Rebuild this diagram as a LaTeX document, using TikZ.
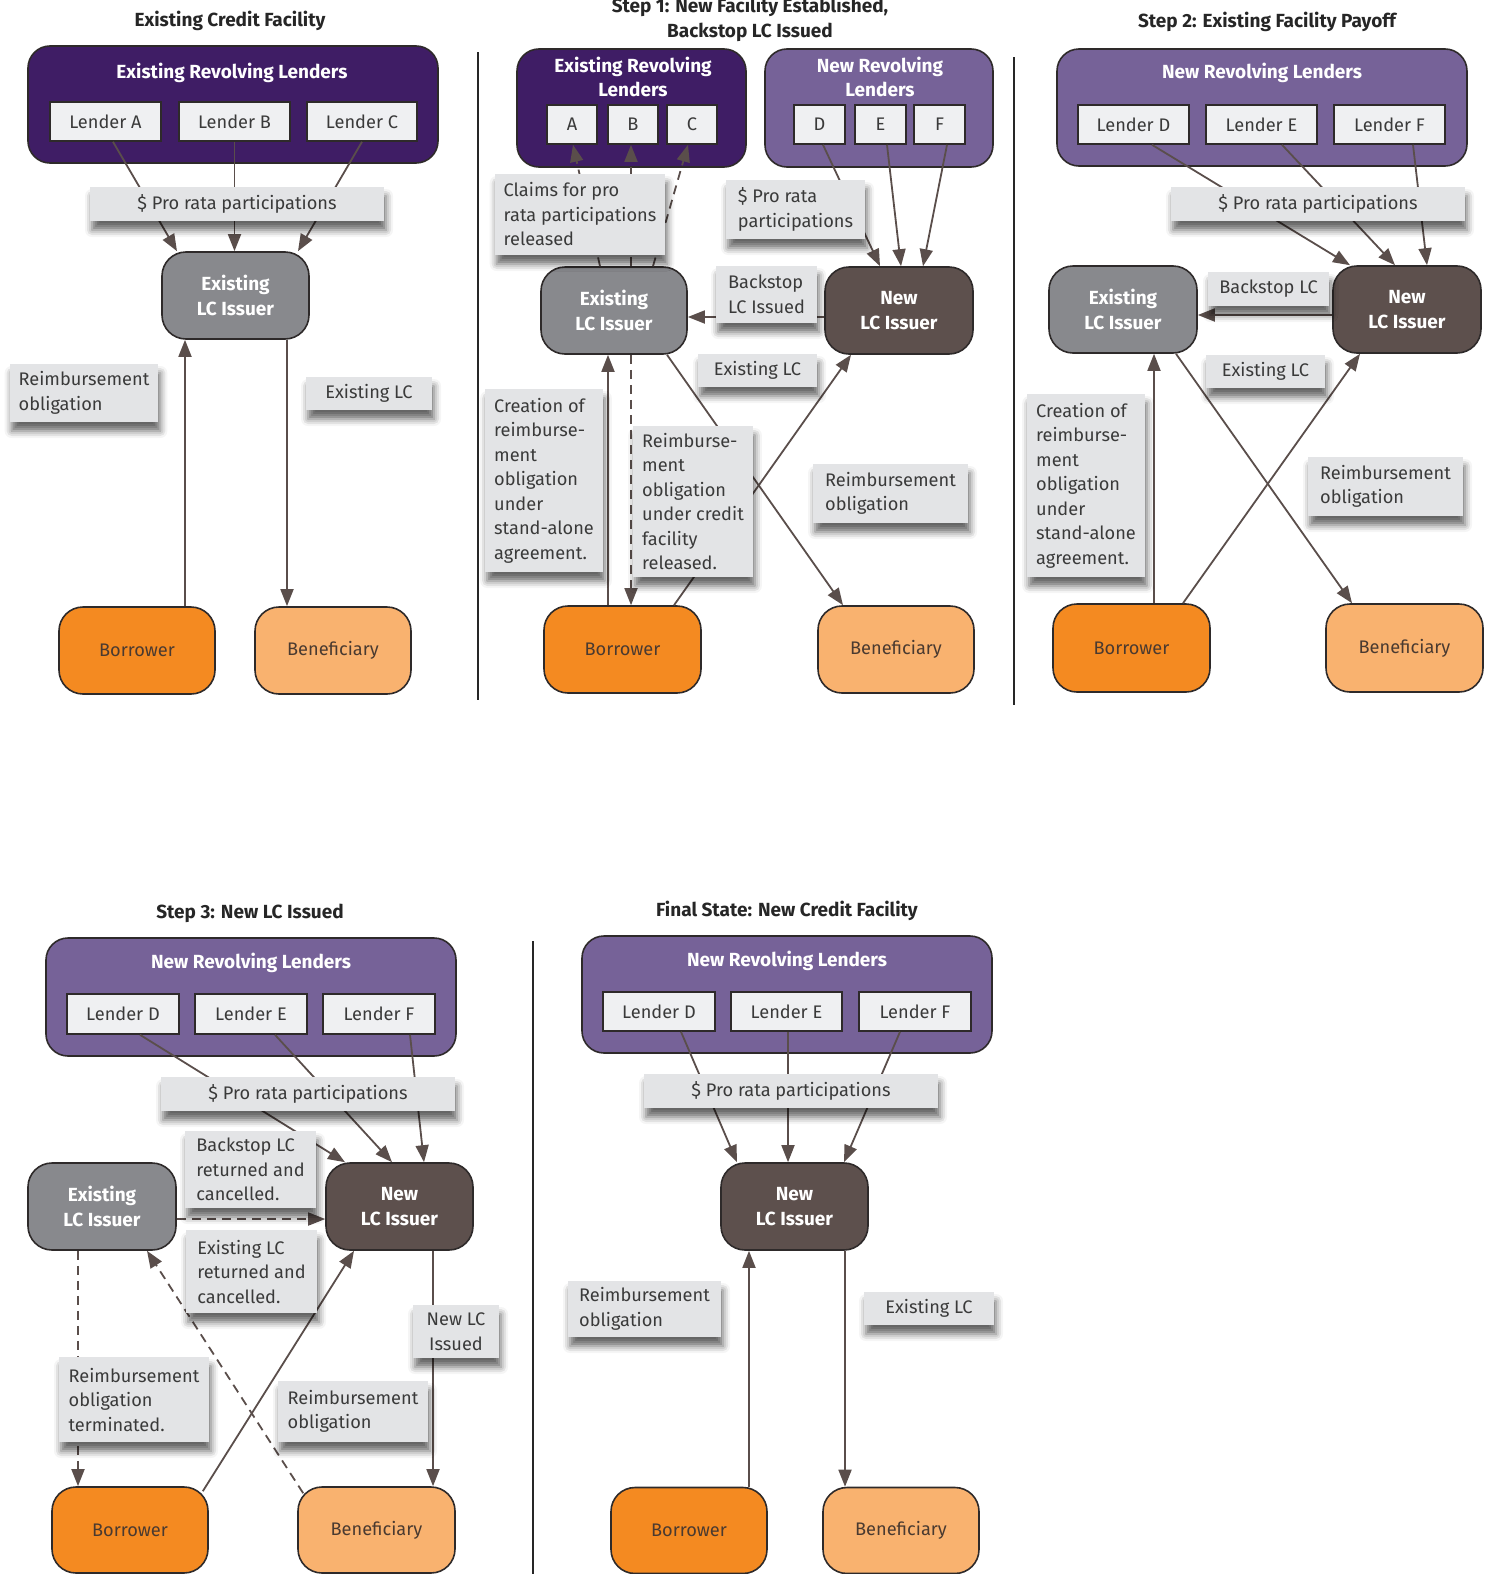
\documentclass[tikz,border=0pt]{standalone}
\usepackage{fontspec}
\setmainfont{Fira Sans}
\usepackage{tikz}
\usetikzlibrary{arrows.meta,shadows.blur}

\definecolor{purpold}{HTML}{3F1D65}
\definecolor{purpnew}{HTML}{766298}
\definecolor{lendfill}{HTML}{EFF0F2}
\definecolor{notefill}{HTML}{E3E4E6}
\definecolor{issold}{HTML}{88898D}
\definecolor{issnew}{HTML}{5D504D}
\definecolor{borrc}{HTML}{F48A21}
\definecolor{benc}{HTML}{F9B26F}
\definecolor{linec}{HTML}{5A4E4B}
\definecolor{edgec}{HTML}{2E2A2A}
\definecolor{txtc}{HTML}{3A3A3A}
\definecolor{txtb}{HTML}{4A3A30}

\newcommand\lblsize{\fontsize{18.2}{24.5}\selectfont}
\newcommand\bldsize{\fontsize{19}{24.5}\selectfont\bfseries}

\begin{document}
\begin{tikzpicture}[x=1pt, y=-1pt,
    grp/.style={draw=edgec, line width=1.6pt, rounded corners=22pt, inner sep=0pt},
    grpold/.style={grp, fill=purpold},
    grpnew/.style={grp, fill=purpnew},
    gtitle/.style={text=white, font=\bldsize, align=center},
    lender/.style={draw=edgec, fill=lendfill, line width=1.6pt, text=txtc, font=\lblsize, inner sep=0pt},
    party/.style={draw=edgec, line width=1.6pt, rounded corners=24pt, inner sep=0pt, font=\lblsize},
    oldiss/.style={party, fill=issold, text=white, font=\bldsize, align=center},
    newiss/.style={party, fill=issnew, text=white, font=\bldsize, align=center},
    borrower/.style={party, fill=borrc, text=txtb},
    benef/.style={party, fill=benc, text=txtb},
    note/.style={fill=notefill, text=txtc, font=\lblsize, align=left, inner xsep=9pt, inner ysep=0pt,
      blur shadow={shadow xshift=2pt, shadow yshift=-9pt, shadow blur radius=7pt, shadow opacity=60}},
    ttl/.style={font=\bldsize, text=black!85, align=center},
    wh/.style 2 args={minimum width=#1pt, minimum height=#2pt},
    arr/.style={draw=linec, line width=1.8pt, -{Triangle[length=17pt,width=13pt]}},
    darr/.style={arr, dash pattern=on 9pt off 6pt},
    sepline/.style={draw=black!85, line width=2.2pt}]
\useasboundingbox (0,0) rectangle (1493,1574);

% Existing credit facility
\node[ttl] (t1) at (230,21) {Existing Credit Facility};
\node[grpold, wh={410}{117}] (g1) at (233,104.5) {};
\node[gtitle] (g1t) at (232,73) {Existing Revolving Lenders};
\node[lender, wh={111}{39}] (lA) at (105.5,121.5) {Lender A};
\node[lender, wh={111}{39}] (lB) at (234.5,121.5) {Lender B};
\node[lender, wh={110}{39}] (lC) at (362,121.5) {Lender C};
\node[oldiss, wh={147}{87}] (iss1) at (235.5,295.5) {Existing\\LC Issuer};
\node[borrower, wh={156}{87}] (bor1) at (137,650.5) {Borrower};
\node[benef, wh={156}{87}] (ben1) at (333,650.5) {Beneficiary};
\draw[arr] ([xshift=7.5pt]lA.south) -- ([xshift=-58.5pt]iss1.north);
\draw[arr] (lB.south) -- (lB.south |- iss1.north);
\draw[arr] (lC.south) -- ([xshift=62.5pt]iss1.north);
\draw[arr] ([xshift=48pt]bor1.north) -- ([xshift=48pt]bor1.north |- iss1.south);
\draw[arr] ([xshift=51.5pt]iss1.south) -- ([xshift=51.5pt]iss1.south |- ben1.north);
\node[note, wh={294}{34}] (pr1) at (237,204) {\$ Pro rata participations};
\node[note, wh={148}{58}] (ro1) at (84,393) {Reimbursement\\obligation};
\node[note, wh={126}{33}] (el1) at (369,393.5) {Existing LC};
\draw[sepline] (478,52) -- (478,700);

% Step 1
\node[ttl] (t2) at (750,19.5) {Step 1: New Facility Established,\\Backstop LC Issued};
\node[grpold, wh={229}{118}] (g2a) at (631.5,108) {};
\node[gtitle] (g2at) at (633,77) {Existing Revolving\\Lenders};
\node[lender, wh={50}{39}] (a2) at (572,124.5) {A};
\node[lender, wh={50}{39}] (b2) at (633,124.5) {B};
\node[lender, wh={50}{39}] (c2) at (692,124.5) {C};
\node[grpnew, wh={228}{118}] (g2b) at (879,108) {};
\node[gtitle] (g2bt) at (880,77) {New Revolving\\Lenders};
\node[lender, wh={51}{39}] (d2) at (819.5,124.5) {D};
\node[lender, wh={51}{39}] (e2) at (880.5,124.5) {E};
\node[lender, wh={51}{39}] (f2) at (939.5,124.5) {F};
\node[oldiss, wh={146}{87}] (eiss2) at (614,310.5) {Existing\\LC Issuer};
\node[newiss, wh={148}{87}] (niss2) at (899,310.5) {New\\LC Issuer};
\node[borrower, wh={157}{87}] (bor2) at (622.5,649.5) {Borrower};
\node[benef, wh={156}{87}] (ben2) at (896,649.5) {Beneficiary};
\draw[darr] ([xshift=-14pt]eiss2.north) -- ([xshift=1pt]a2.south);
\draw[darr] ([xshift=17pt]eiss2.north) -- ([xshift=17pt]eiss2.north |- b2.south);
\draw[darr] ([xshift=39pt]eiss2.north) -- ([xshift=-4pt]c2.south);
\draw[arr] ([xshift=3.5pt]d2.south) -- ([xshift=-19pt]niss2.north);
\draw[arr] ([xshift=6.5pt]e2.south) -- ([xshift=2pt]niss2.north);
\draw[arr] ([xshift=7.5pt]f2.south) -- ([xshift=24pt]niss2.north);
\draw[arr] ([yshift=-6.5pt]niss2.west) -- ([yshift=-6.5pt]niss2.west -| eiss2.east);
\draw[arr] ([xshift=-14.5pt]bor2.north) -- ([xshift=-14.5pt]bor2.north |- eiss2.south);
\draw[darr] ([xshift=17pt]eiss2.south) -- ([xshift=17pt]eiss2.south |- bor2.north);
\draw[arr] ([xshift=53pt]eiss2.south) -- ([xshift=-53pt]ben2.north);
\draw[arr] ([xshift=51.5pt]bor2.north) -- ([xshift=-48pt]niss2.south);
\node[note, wh={168}{81}] (cl2) at (580,214.5) {Claims for pro\\rata participations\\released};
\node[note, wh={139}{59}] (pr2) at (795.5,209.5) {\$ Pro rata\\participations};
\node[note, wh={101}{57}] (bs2) at (766.5,294.5) {Backstop\\LC Issued};
\node[note, wh={119}{33}] (el2) at (757.5,370.5) {Existing LC};
\node[note, wh={116}{183}] (cr2) at (544,480.5) {Creation of\\reimburse-\\ment\\obligation\\under\\stand-alone\\agreement.};
\node[note, wh={116}{151}] (rm2) at (693,501.5) {Reimburse-\\ment\\obligation\\under credit\\facility\\released.};
\node[note, wh={155}{59}] (ro2) at (890.5,493.5) {Reimbursement\\obligation};
\draw[sepline] (1014,57) -- (1014,705);

% Step 2
\node[ttl] (t3) at (1267,22) {Step 2: Existing Facility Payoff};
\node[grpnew, wh={410}{117}] (g3) at (1262,107.5) {};
\node[gtitle] (g3t) at (1262,73) {New Revolving Lenders};
\node[lender, wh={111}{39}] (d3) at (1133.5,124.5) {Lender D};
\node[lender, wh={111}{39}] (e3) at (1261.5,124.5) {Lender E};
\node[lender, wh={111}{39}] (f3) at (1389.5,124.5) {Lender F};
\node[oldiss, wh={148}{87}] (eiss3) at (1123,309.5) {Existing\\LC Issuer};
\node[newiss, wh={148}{87}] (niss3) at (1407,309.5) {New\\LC Issuer};
\node[borrower, wh={157}{88}] (bor3) at (1131.5,648) {Borrower};
\node[benef, wh={157}{88}] (ben3) at (1404.5,648) {Beneficiary};
\draw[arr] ([xshift=18.5pt]d3.south) -- ([xshift=-57pt]niss3.north);
\draw[arr] ([xshift=20.5pt]e3.south) -- ([xshift=-12pt]niss3.north);
\draw[arr] ([xshift=23.5pt]f3.south) -- ([xshift=20pt]niss3.north);
\draw[arr] ([yshift=-5.5pt]niss3.west) -- ([yshift=-5.5pt]niss3.west -| eiss3.east);
\draw[arr] ([xshift=22.5pt]bor3.north) -- ([xshift=22.5pt]bor3.north |- eiss3.south);
\draw[arr] ([xshift=53pt]eiss3.south) -- ([xshift=-52.5pt]ben3.north);
\draw[arr] ([xshift=51.5pt]bor3.north) -- ([xshift=-47pt]niss3.south);
\node[note, wh={294}{34}] (pr3) at (1318,204) {\$ Pro rata participations};
\node[note, wh={121}{34}] (bs3) at (1268.5,289) {Backstop LC};
\node[note, wh={119}{33}] (el3) at (1265.5,371.5) {Existing LC};
\node[note, wh={116}{183}] (cr3) at (1086,485.5) {Creation of\\reimburse-\\ment\\obligation\\under\\stand-alone\\agreement.};
\node[note, wh={155}{59}] (ro3) at (1385.5,486.5) {Reimbursement\\obligation};

% Step 3
\node[ttl] (t4) at (250,913) {Step 3: New LC Issued};
\node[grpnew, wh={410}{118}] (g4) at (251,997) {};
\node[gtitle] (g4t) at (251,963) {New Revolving Lenders};
\node[lender, wh={112}{40}] (d4) at (123,1014) {Lender D};
\node[lender, wh={112}{40}] (e4) at (251,1014) {Lender E};
\node[lender, wh={112}{40}] (f4) at (379,1014) {Lender F};
\node[oldiss, wh={148}{87}] (eiss4) at (102,1206.5) {Existing\\LC Issuer};
\node[newiss, wh={147}{87}] (niss4) at (399.5,1206.5) {New\\LC Issuer};
\node[borrower, wh={156}{86}] (bor4) at (130,1530) {Borrower};
\node[benef, wh={157}{86}] (ben4) at (376.5,1530) {Beneficiary};
\draw[arr] ([xshift=17pt]d4.south) -- ([xshift=-54.5pt]niss4.north);
\draw[arr] ([xshift=24pt]e4.south) -- ([xshift=-7.5pt]niss4.north);
\draw[arr] ([xshift=31pt]f4.south) -- ([xshift=24.5pt]niss4.north);
\draw[darr] ([yshift=-12.5pt]eiss4.east) -- ([yshift=-12.5pt]eiss4.east -| niss4.west);
\draw[darr] ([xshift=-24pt]eiss4.south) -- ([xshift=-24pt]eiss4.south |- bor4.north);
\draw[darr] ([xshift=6pt,yshift=-7pt]ben4.north west) -- ([xshift=45pt]eiss4.south);
\draw[arr] ([xshift=-6pt,yshift=-5pt]bor4.north east) -- ([xshift=-45.5pt]niss4.south);
\draw[arr] ([xshift=33.5pt]niss4.south) -- ([xshift=33.5pt]niss4.south |- ben4.north);
\node[note, wh={294}{34}] (pr4) at (308,1094) {\$ Pro rata participations};
\node[note, wh={131}{77}] (bs4) at (250.5,1169.5) {Backstop LC\\returned and\\cancelled.};
\node[note, wh={131}{83}] (er4) at (251.5,1271.5) {Existing LC\\returned and\\cancelled.};
\node[note, wh={86}{53}, align=center] (nl4) at (456,1331.5) {New LC\\Issued};
\node[note, wh={150}{85}] (rt4) at (134,1399.5) {Reimbursement\\obligation\\terminated.};
\node[note, wh={150}{61}] (ro4) at (353,1411.5) {Reimbursement\\obligation};
\draw[sepline] (533,941) -- (533,1574);

% Final state
\node[ttl] (t5) at (787,911) {Final State: New Credit Facility};
\node[grpnew, wh={410}{117}] (g5) at (787,994.5) {};
\node[gtitle] (g5t) at (787,961) {New Revolving Lenders};
\node[lender, wh={112}{39}] (d5) at (659,1011.5) {Lender D};
\node[lender, wh={111}{39}] (e5) at (786.5,1011.5) {Lender E};
\node[lender, wh={112}{39}] (f5) at (915,1011.5) {Lender F};
\node[newiss, wh={147}{87}] (niss5) at (794.5,1206.5) {New\\LC Issuer};
\node[borrower, wh={156}{86}] (bor5) at (689,1530.5) {Borrower};
\node[benef, wh={156}{86}] (ben5) at (901,1530.5) {Beneficiary};
\draw[arr] ([xshift=22pt]d5.south) -- ([xshift=-57.5pt]niss5.north);
\draw[arr] ([xshift=1.5pt]e5.south) -- ([xshift=1.5pt]e5.south |- niss5.north);
\draw[arr] ([xshift=-15pt]f5.south) -- ([xshift=49.5pt]niss5.north);
\draw[arr] ([xshift=60pt]bor5.north) -- ([xshift=60pt]bor5.north |- niss5.south);
\draw[arr] ([xshift=50.5pt]niss5.south) -- ([xshift=50.5pt]niss5.south |- ben5.north);
\node[note, wh={294}{34}] (pr5) at (791,1091) {\$ Pro rata participations};
\node[note, wh={153}{56}] (ro5) at (644.5,1309) {Reimbursement\\obligation};
\node[note, wh={130}{33}] (el5) at (929,1308.5) {Existing LC};
\end{tikzpicture}
\end{document}
